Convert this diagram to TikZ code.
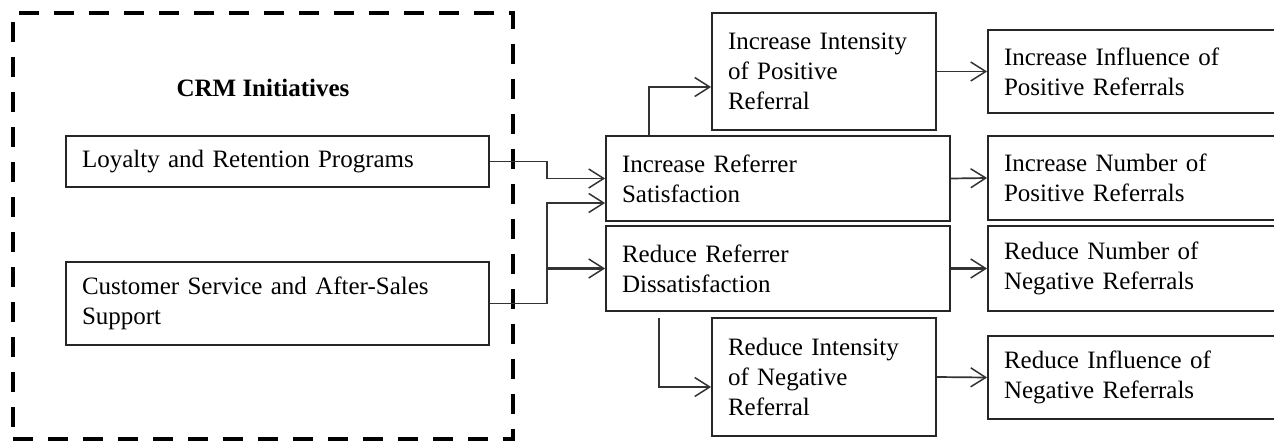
\documentclass[tikz,border=0pt]{standalone}
\usepackage{fontspec}
\setmainfont{Liberation Serif}
\usetikzlibrary{arrows.meta}
\begin{document}
\begin{tikzpicture}[x=1pt,y=-1pt,
  txt/.style={font=\fontsize{25}{30}\selectfont, text=black},
  box/.style={txt, draw=black!85, line width=1.8pt, inner xsep=16pt, inner ysep=0pt, align=left},
  arr/.style={draw=black!80, line width=1.7pt, -{Straight Barb[length=15pt,width=19pt,line width=1.5pt]}},
  heavy/.style={line width=3pt},
  frame/.style={draw=black, line width=4pt, dash pattern=on 20pt off 15pt, inner sep=0pt}
]
\useasboundingbox (0,0) rectangle (1274,441);
\clip (0,0) rectangle (1274,441);

% group of CRM initiatives
\node[frame, minimum width=500pt, minimum height=426pt] (crm) at (263,226) {};
\node[txt, font=\bfseries\fontsize{25}{30}\selectfont] (title) at (263,88) {CRM Initiatives};
\node[box, minimum width=423pt, minimum height=51pt, text width=391pt] (loy) at (277.5,161.5) {Loyalty and Retention Programs};
\node[box, minimum width=423pt, minimum height=83pt, text width=391pt] (cust) at (277.5,303.5) {Customer Service and After-Sales\\Support};

% referrer outcomes
\node[box, minimum width=344pt, minimum height=85pt, text width=312pt] (incsat) at (778,178.5) {Increase Referrer\\Satisfaction};
\node[box, minimum width=344pt, minimum height=85pt, text width=312pt] (reddis) at (778,268.5) {Reduce Referrer\\Dissatisfaction};
\node[box, minimum width=224pt, minimum height=117pt, text width=192pt] (incint) at (824,71.5) {Increase Intensity\\of Positive\\Referral};
\node[box, minimum width=224pt, minimum height=118pt, text width=192pt] (redint) at (824,377) {Reduce Intensity\\of Negative\\Referral};

% referral effects
\node[box, minimum width=302pt, minimum height=83pt, text width=270pt] (infpos) at (1139,71.5) {Increase Influence of\\Positive Referrals};
\node[box, minimum width=302pt, minimum height=84pt, text width=270pt] (numpos) at (1139,178) {Increase Number of\\Positive Referrals};
\node[box, minimum width=302pt, minimum height=85pt, text width=270pt] (numneg) at (1139,268.5) {Reduce Number of\\Negative Referrals};
\node[box, minimum width=302pt, minimum height=83pt, text width=270pt] (infneg) at (1139,377.5) {Reduce Influence of\\Negative Referrals};

% routing points
\coordinate (bus) at (547,0);
\coordinate (upx) at (649,0);
\coordinate (satin) at ([yshift=-24.5pt]incsat.west);
\coordinate (incin) at ([yshift=-15.5pt]incint.west);
\coordinate (redin) at ([yshift=-10pt]redint.west);
\coordinate (rsrc) at (659,318);

% initiatives to outcomes
\draw[arr] (loy.east) -- (loy.east -| bus) |- (incsat.west);
\draw[arr] (cust.east) -- (cust.east -| bus) |- (satin);
\draw[arr, heavy] (reddis.west -| bus) -- (reddis.west);

% outcomes to intensities
\draw[arr] (incsat.north -| upx) |- (incin);
\draw[arr] (rsrc) |- (redin);

% to referral effects
\draw[arr] (incint.east) -- (infpos.west);
\draw[arr] (incsat.east) -- (numpos.west);
\draw[arr, heavy] (reddis.east) -- (numneg.west);
\draw[arr] (redint.east) -- (infneg.west);
\end{tikzpicture}
\end{document}
